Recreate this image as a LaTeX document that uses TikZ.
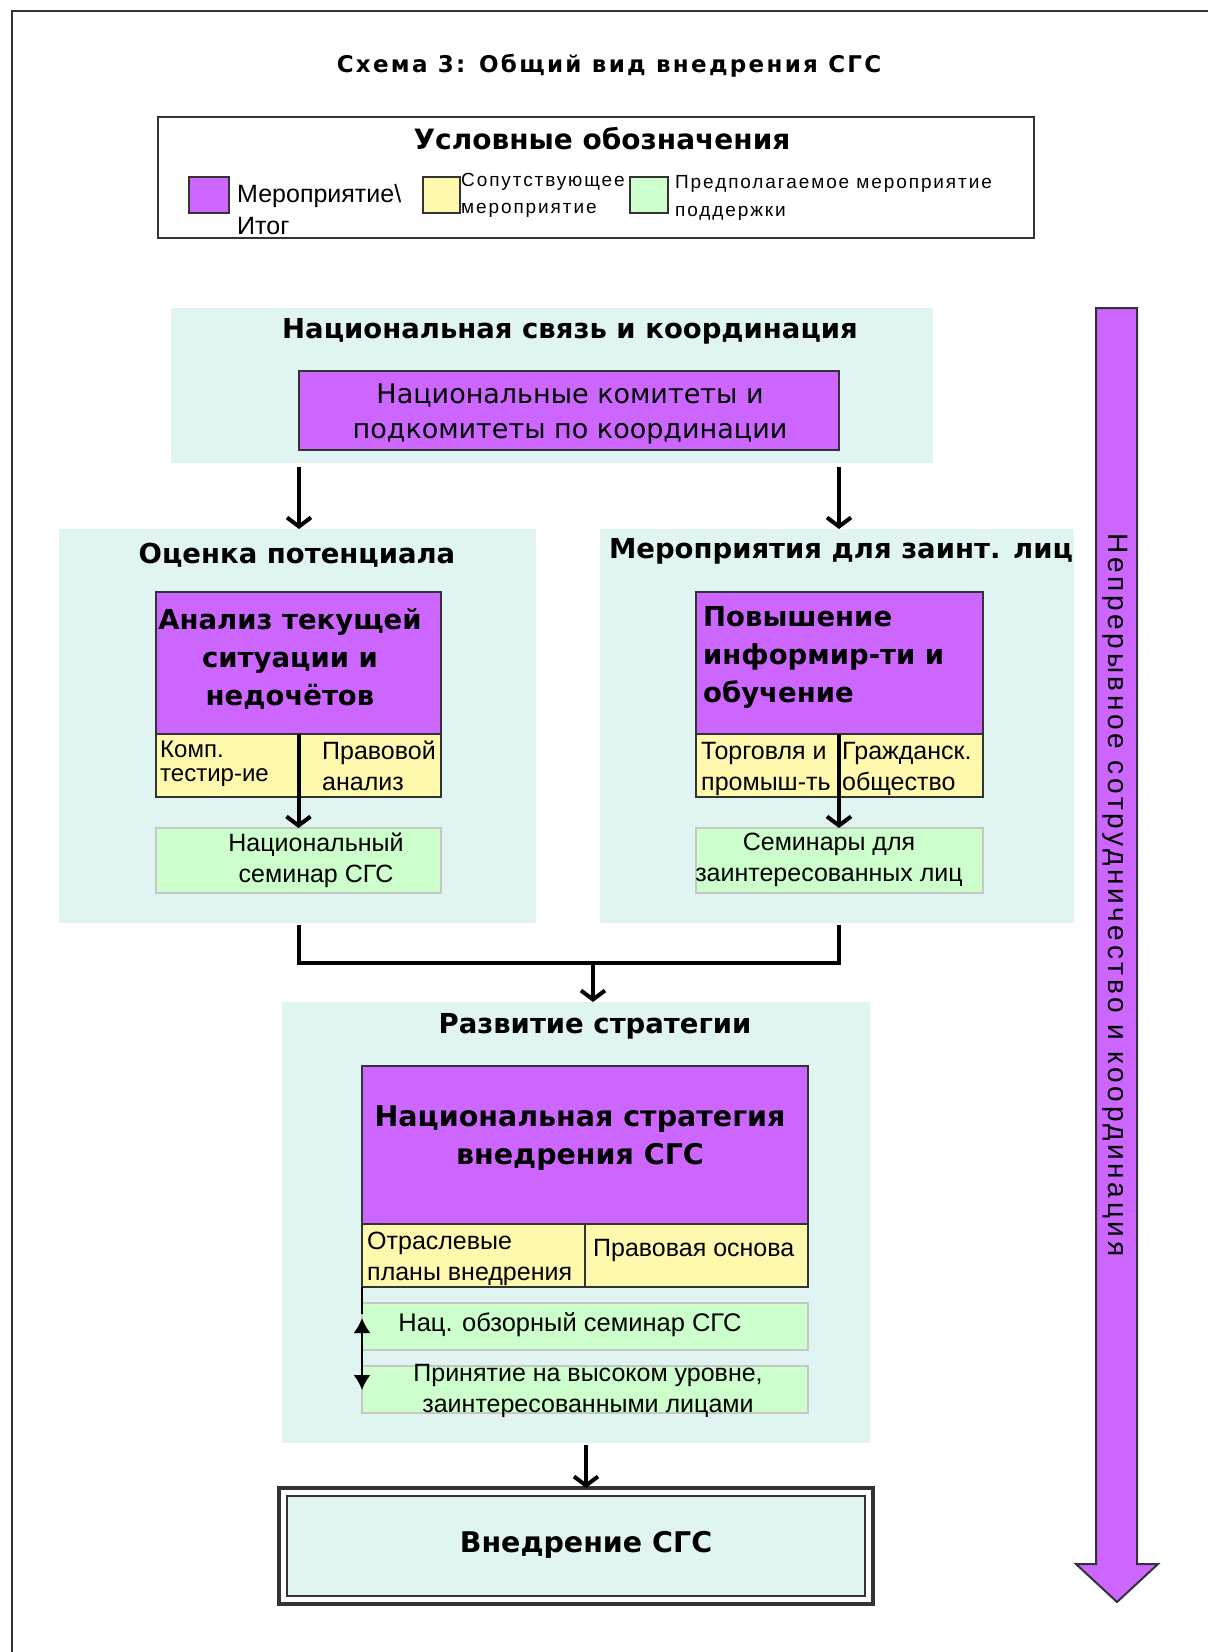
\documentclass[tikz,border=0pt]{standalone}
\usepackage{fontspec}
\setmainfont{Liberation Sans}
\newfontfamily\hdf{DejaVu Sans}
\newfontfamily\ttlf{DejaVu Sans}[LetterSpace=10]
\newfontfamily\lsf{Liberation Sans}[LetterSpace=10]
\newfontfamily\rotf{Liberation Sans}[LetterSpace=13]
\usetikzlibrary{arrows.meta}
\definecolor{pur}{RGB}{204,102,255}
\definecolor{yel}{RGB}{255,249,174}
\definecolor{grn}{RGB}{204,255,204}
\definecolor{pan}{RGB}{224,245,242}
\definecolor{edge}{RGB}{51,51,51}
\newcommand{\rbox}[6]{\node[#2, anchor=north west, inner sep=0pt, outer sep=0pt, minimum width={#5pt-#3pt}, minimum height={#6pt-#4pt}] (#1) at (#3,#4) {};}
\tikzset{
  panel/.style={fill=pan, draw=none},
  purbox/.style={fill=pur, draw=edge, line width=2pt},
  yelbox/.style={fill=yel, draw=edge, line width=2pt},
  grnbox/.style={fill=grn, draw=black!22, line width=1.2pt},
  head/.style={font=\hdf\bfseries\fontsize{27.5}{30}\selectfont, inner sep=0pt},
  bighead/.style={font=\hdf\bfseries\fontsize{27.5}{38}\selectfont, inner sep=0pt},
  body/.style={font=\fontsize{25}{31}\selectfont, inner sep=0pt},
  arr/.style={line width=4pt, -{Straight Barb[length=9pt,width=24pt]}},
  dblarr/.style={line width=2pt, {Latex[length=15pt,width=17pt]}-{Latex[length=15pt,width=17pt]}}
}
\begin{document}
\begin{tikzpicture}[x=1pt, y=-1pt]
\useasboundingbox (0,0) rectangle (1208,1652);
\fill[white] (0,0) rectangle (1208,1652);
\draw[edge, line width=2.5pt] (12,1652) -- (12,11) -- (1208,11);

% title
\node[font=\ttlf\bfseries\fontsize{23}{26}\selectfont, inner sep=0pt] (title) at (609,66) {Схема 3: Общий вид внедрения СГС};

% legend
\rbox{leg}{draw=edge, line width=2pt, fill=white}{158}{117}{1034}{238}
\node[font=\hdf\bfseries\fontsize{28}{30}\selectfont, inner sep=0pt] (legt) at (602,139) {Условные обозначения};
\rbox{lp}{purbox}{189}{177}{229}{213}
\node[font=\fontsize{25}{32}\selectfont, inner sep=0pt, anchor=west, align=left] (lpt) at (237,210) {Мероприятие\textbackslash\\Итог};
\rbox{ly}{yelbox}{423}{177}{460}{213}
\node[font=\lsf\fontsize{19}{27}\selectfont, inner sep=0pt, anchor=west, align=left] (lyt) at (461,195) {Сопутствующее\\мероприятие};
\rbox{lg}{grnbox, draw=edge}{630}{177}{668}{213}
\node[font=\lsf\fontsize{19}{28}\selectfont, inner sep=0pt, anchor=west, align=left] (lgt) at (675,198) {Предполагаемое мероприятие\\поддержки};

% top panel
\rbox{ptop}{panel}{171}{308}{933}{463}
\node[head] (htop) at (570,331) {Национальная связь и координация};
\rbox{btop}{purbox}{299}{371}{839}{450}
\node[font=\hdf\fontsize{27}{35}\selectfont, inner sep=0pt, align=center] (ttop) at (570,414) {Национальные комитеты и\\подкомитеты по координации};

% left panel
\rbox{pleft}{panel}{59}{529}{536}{923}
\node[head] (hleft) at (297,555) {Оценка потенциала};
\rbox{bleft}{purbox}{156}{592}{441}{734}
\node[bighead, align=center] (tleft) at (290,659) {Анализ текущей\\ситуации и\\недочётов};
\rbox{yl1}{yelbox}{156}{734}{299}{797}
\rbox{yl2}{yelbox}{299}{734}{441}{797}
\node[anchor=north west, align=left, inner sep=0pt, font=\fontsize{24}{24}\selectfont] (tyl1) at (160,741) {Комп.\\тестир-ие};
\node[body, anchor=north west, align=left] (tyl2) at (322,741) {Правовой\\анализ};
\rbox{gleft}{grnbox}{156}{828}{441}{893}
\node[body, align=center] (tgl) at (316,860) {Национальный\\семинар СГС};

% right panel
\rbox{pright}{panel}{600}{529}{1074}{923}
\node[head] (hright) at (841,551) {Мероприятия для заинт. лиц};
\rbox{bright}{purbox}{696}{592}{983}{734}
\node[bighead, anchor=north west, align=left] (tright) at (703,606) {Повышение\\информир-ти и\\обучение};
\rbox{yr1}{yelbox}{696}{734}{839}{797}
\rbox{yr2}{yelbox}{839}{734}{983}{797}
\node[body, anchor=north west, align=left] (tyr1) at (701,742) {Торговля и\\промыш-ть};
\node[body, anchor=north west, align=left] (tyr2) at (842,742) {Гражданск.\\общество};
\rbox{gright}{grnbox}{696}{828}{983}{893}
\node[body, align=center] (tgr) at (829,860) {Семинары для\\заинтересованных лиц};

% strategy panel
\rbox{pstr}{panel}{282}{1002}{870}{1443}
\node[head] (hstr) at (595,1026) {Развитие стратегии};
\rbox{bstr}{purbox}{362}{1066}{808}{1224}
\node[bighead, font=\hdf\bfseries\fontsize{28.5}{38}\selectfont, align=center] (tstr) at (580,1138) {Национальная стратегия\\внедрения СГС};
\rbox{ys1}{yelbox}{362}{1224}{585}{1287}
\rbox{ys2}{yelbox}{585}{1224}{808}{1287}
\node[body, anchor=north west, align=left] (tys1) at (367,1232) {Отраслевые\\планы внедрения};
\node[body, anchor=west] (tys2) at (593,1250) {Правовая основа};
\rbox{gs1}{grnbox}{362}{1303}{808}{1350}
\node[body, font=\fontsize{25.5}{31}\selectfont] (tgs1) at (570,1325) {Нац. обзорный семинар СГС};
\rbox{gs2}{grnbox}{362}{1366}{808}{1413}
\node[body, align=center] (tgs2) at (588,1391) {Принятие на высоком уровне,\\заинтересованными лицами};

% final box
\rbox{fin}{draw=edge, line width=4pt, fill=white}{279}{1488}{873}{1604}
\rbox{fini}{draw=edge, line width=2pt, fill=pan}{287}{1496}{865}{1596}
\node[head, font=\hdf\bfseries\fontsize{28.5}{30}\selectfont] (tfin) at (586,1545) {Внедрение СГС};

% connectors
\draw[arr] ([yshift=-4pt]ptop.south -| yl1.north east) -- (pleft.north -| yl1.north east);
\draw[arr] ([yshift=-4pt]ptop.south -| yr1.north east) -- (pright.north -| yr1.north east);
\draw[arr] (bleft.south) -- (gleft.north);
\draw[arr] (yr1.north east) -- (gright.north -| yr1.north east);
\draw[line width=4.5pt] ([yshift=-2pt]pleft.south -| yl1.north east) -- (299,963) -- (839,963) -- ([yshift=-2pt]pright.south -| yr1.north east);
\coordinate (mid) at (593,963);
\draw[arr] (mid) -- (pstr.north -| mid);
\draw[line width=2pt] (ys1.south west) -- (362,1314);
\draw[dblarr] (362,1318) -- (362,1390);
\draw[arr] ([yshift=-2pt]pstr.south -| tfin) -- (fin.north -| tfin);

% big arrow
\draw[draw=edge, line width=2pt, fill=pur, line join=miter] (1096,308) -- (1137,308) -- (1137,1564) -- (1158,1564) -- (1117,1602) -- (1076,1564) -- (1096,1564) -- cycle;
\node[rotate=-90, font=\rotf\fontsize{28}{30}\selectfont, inner sep=0pt] (cont) at (1115,895) {Непрерывное сотрудничество и координация};
\end{tikzpicture}
\end{document}
